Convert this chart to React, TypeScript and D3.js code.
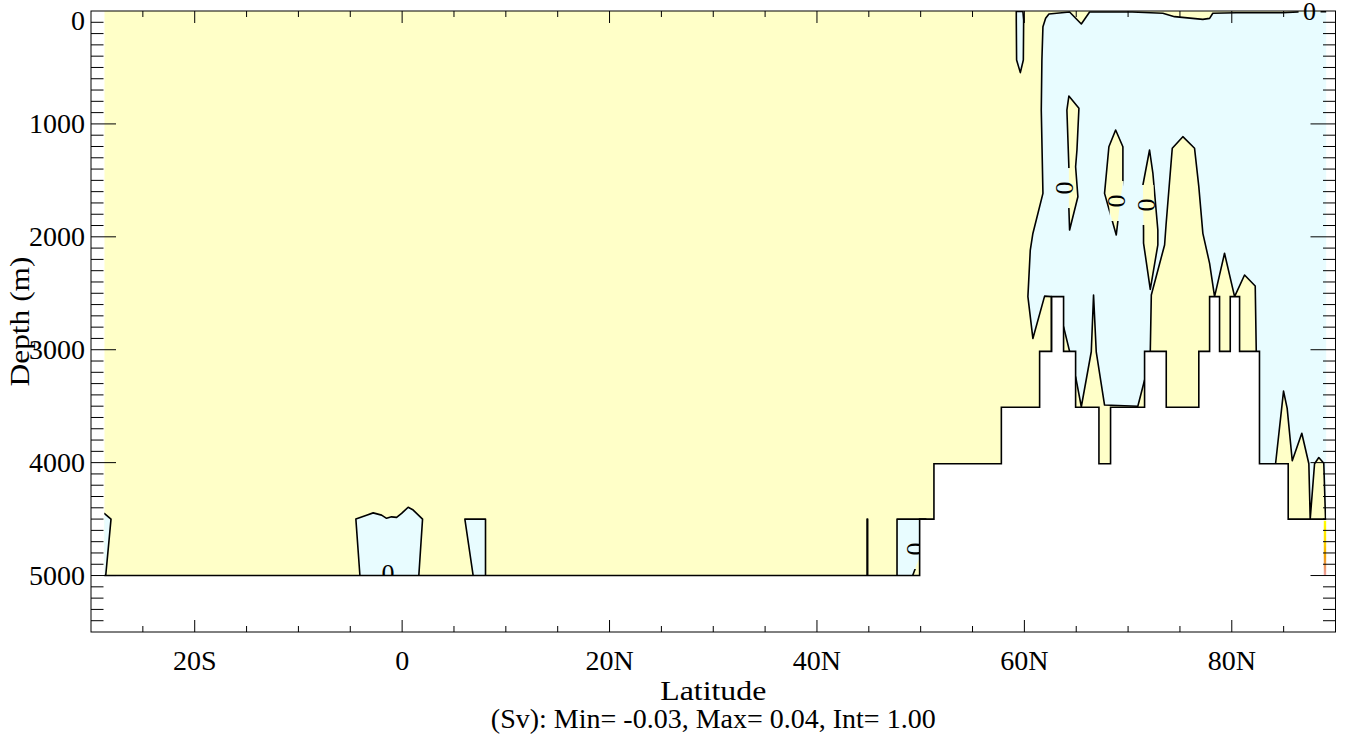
import React from 'react';
import * as d3 from 'd3';

type Pt = [number, number];

// ---------- axis ticks ----------
const latTickValues = [-20, 0, 20, 40, 60, 80];
const latTickLabels = ['20S', '0', '20N', '40N', '60N', '80N'];
const depthTickValues = [0, 1000, 2000, 3000, 4000, 5000];
const depthTickLabels = ['0', '1000', '2000', '3000', '4000', '5000'];

// ---------- data domain (model grid extent) ----------
const dataLatRange: Pt = [-28.72, 89.1];

// ---------- bathymetry (step edges in latitude, depth per cell in m) ----------
const bathyEdges = [-28.72, 49.9, 51.28, 57.78, 61.47, 62.63, 63.78, 64.94, 67.19, 68.31, 71.59, 73.68, 76.82, 77.86, 78.82, 79.85, 80.75, 82.67, 85.44, 89.1];
const bathyDepths = [5000, 4500, 4010, 3510, 3015, 2530, 3015, 3510, 4010, 3510, 3015, 3510, 3015, 2530, 3015, 2530, 3015, 4010, 4500];

// ---------- negative streamfunction regions (lat, depth) ----------
const negArctic: Pt[] = [
  [62.37, 27], [64.36, 9], [65.49, 115], [66.29, 9], [70.4, 9], [73.35, 20], [74.48, 50],
  [77.21, 74], [77.86, 65], [78.17, 20], [80.43, 15], [84.92, 15], [86.85, 6], [90, 6],
  [90, 5600], [62.63, 5600], [62.6, 2530], [61.95, 2525], [60.82, 2900], [60.34, 2530],
  [60.57, 2117], [60.82, 1970], [61.79, 1615], [61.63, 877], [61.69, 434], [61.79, 139], [62.05, 65],
];
const negSliver60N: Pt[] = [
  [59.22, 5], [59.86, 5], [59.93, 80], [59.9, 434], [59.61, 546], [59.25, 434], [59.22, 80],
];
const negLeftEdge: Pt[] = [
  [-30, 4450], [-28.72, 4450], [-28.07, 4500], [-28.58, 5000], [-28.58, 5600], [-30, 5600],
];
const negEquator: Pt[] = [
  [-4.46, 4500], [-3.43, 4465], [-2.79, 4445], [-1.98, 4465], [-1.5, 4493], [-1.02, 4480],
  [-0.53, 4485], [-0.05, 4450], [0.58, 4395], [1.07, 4420], [1.97, 4500], [1.61, 5000],
  [1.61, 5600], [-4.07, 5600], [-4.07, 5000],
];
const negEq2: Pt[] = [[6.05, 4500], [8.04, 4500], [8.04, 5600], [6.85, 5600], [6.85, 5000]];
const negLine45N: Pt[] = [[44.83, 4500], [44.89, 4500], [44.89, 5600], [44.83, 5600]];
const neg48N: Pt[] = [[47.72, 4500], [50.5, 4500], [50.5, 5600], [47.72, 5600]];

// ---------- positive regions inside negative ones ----------
const posA: Pt[] = [
  [64.29, 753], [65.26, 862], [65.07, 1231], [64.94, 1379], [65.16, 1645], [64.36, 1940],
  [64.29, 1745], [64.29, 1379], [64.1, 877],
];
const posB: Pt[] = [
  [68.8, 1054], [69.5, 1202], [69.5, 1512], [69.18, 1733], [68.86, 1984], [67.73, 1615], [68.15, 1202],
];
const posC: Pt[] = [
  [72.07, 1231], [72.39, 1435], [72.87, 1940], [72.87, 2072], [72.14, 2465], [71.49, 2055],
  [71.49, 1940], [71.43, 1541],
];
const posD: Pt[] = [
  [72.14, 3600], [72.14, 3018], [72.24, 2515], [73.52, 2072], [73.66, 1895], [74.26, 1216],
  [75.28, 1113], [76.41, 1216], [76.82, 1556], [77.21, 1969], [77.86, 2235], [78.34, 2530],
  [79.3, 2146], [80.27, 2530], [81.23, 2338], [82.26, 2436], [82.36, 3018], [82.36, 3600],
];
const posWedge64N: Pt[] = [[63.78, 2796], [64.36, 3015], [64.36, 3200], [63.5, 3200], [63.5, 2796]];
const posE: Pt[] = [
  [64.7, 3239], [64.94, 3239], [65.49, 3505], [66.45, 3018], [66.67, 2515], [66.93, 3018],
  [67.73, 3490], [70.94, 3500], [71.59, 3268], [71.8, 3268], [71.8, 4100], [64.7, 4100],
];
const posFG: Pt[] = [
  [84.22, 4010], [84.99, 3366], [85.34, 3519], [85.83, 3983], [86.75, 3740], [87.43, 4010],
  [87.56, 4500], [87.98, 4010], [88.39, 3955], [88.87, 4005], [89.04, 4500], [89.04, 4600], [84.22, 4600],
];
const posWedge49N: Pt[] = [[49.23, 5000], [49.9, 4836], [50.5, 4836], [50.5, 5600], [49.23, 5600]];

const negRegions = [negArctic, negSliver60N, negLeftEdge, negEquator, negEq2, negLine45N, neg48N];
const posRegions = [posA, posB, posC, posD, posWedge64N, posE, posFG, posWedge49N];

// ---------- contour labels ----------
const labelLat = [63.88, 68.89, 71.78, 87.5, -1.37, 49.52];
const labelDepth = [1568, 1683, 1718, 0, 4985, 4765];
const labelRot = [-90, -90, -90, 0, 0, -90];

// ---------- small coloured sliver at the northern edge ----------
const sliverLat: Pt = [88.87, 89.1];
const sliverDepth: Pt = [4515, 5000];

const subtitle = '(Sv): Min= -0.03, Max= 0.04, Int= 1.00';

const W = 1347;
const H = 740;
const plot = { left: 91, right: 1335.5, top: 11, bottom: 632 };
const YELLOW = '#FFFFC8';
const CYAN = '#E8FCFF';
const FONT = "'Liberation Serif', 'Times New Roman', serif";

export default function App() {
  const x = d3.scaleLinear().domain([-30, 90]).range([plot.left, plot.right]);
  const y = d3.scaleLinear().domain([0, 5500]).range([plot.top, plot.bottom]);
  const line = d3.line<Pt>().x((d) => x(d[0])).y((d) => y(d[1]));
  const poly = (pts: Pt[]) => (line(pts) || '') + 'Z';

  // land fill & outline from bathymetry
  const landFill: Pt[] = [[-30, 5500]];
  const landLine: Pt[] = [];
  bathyDepths.forEach((dep, i) => {
    const a = i === 0 ? -30 : bathyEdges[i];
    const b = i === bathyDepths.length - 1 ? 90 : bathyEdges[i + 1];
    landFill.push([a, dep], [b, dep]);
    landLine.push([bathyEdges[i], dep], [bathyEdges[i + 1], dep]);
  });
  landFill.push([90, 5500]);

  const minorLat = d3.range(-25, 90, 5);
  const minorDepth = d3.range(100, 5500, 100);

  const dx0 = x(dataLatRange[0]);
  const dx1 = x(dataLatRange[1]);
  const midX = (plot.left + plot.right) / 2;
  const midY = (plot.top + plot.bottom) / 2;

  return (
    <svg
      width={W}
      height={H}
      style={{ position: 'absolute', left: 0, top: 0, background: '#fff' }}
      fontFamily={FONT}
    >
      <defs>
        <clipPath id="dataClip">
          <rect x={dx0} y={y(0)} width={dx1 - dx0} height={y(5500) - y(0)} />
        </clipPath>
        <mask id="labelGaps" maskUnits="userSpaceOnUse" x={0} y={0} width={W} height={H}>
          <rect x={0} y={0} width={W} height={H} fill="white" />
          {labelLat.map((la, i) => {
            const cx = x(la);
            const cy = y(labelDepth[i]);
            const w = labelRot[i] === 0 ? 22 : 14;
            const h = labelRot[i] === 0 ? 22 : 40;
            return <rect key={i} x={cx - w / 2} y={cy - h / 2} width={w} height={h} fill="black" />;
          })}
        </mask>
        <linearGradient id="sliverGrad" x1="0" y1="0" x2="0" y2="1">
          <stop offset="0%" stopColor="#ffff00" />
          <stop offset="35%" stopColor="#ffe000" />
          <stop offset="65%" stopColor="#f0a000" />
          <stop offset="100%" stopColor="#e06060" stopOpacity={0.6} />
        </linearGradient>
      </defs>

      <g clipPath="url(#dataClip)">
        <rect x={dx0} y={y(0)} width={dx1 - dx0} height={y(5500) - y(0)} fill={YELLOW} />
        {negRegions.map((p, i) => (
          <path key={'n' + i} d={poly(p)} fill={CYAN} />
        ))}
        {posRegions.map((p, i) => (
          <path key={'p' + i} d={poly(p)} fill={YELLOW} />
        ))}
        <g mask="url(#labelGaps)" fill="none" stroke="#000" strokeWidth={1.6} strokeLinejoin="round">
          {[...negRegions, ...posRegions].map((p, i) => (
            <path key={'s' + i} d={poly(p)} />
          ))}
        </g>
      </g>

      {labelLat.map((la, i) => {
        const cx = x(la);
        const cy = y(labelDepth[i]);
        return (
          <text
            key={'l' + i}
            x={cx}
            y={cy}
            fontSize={26}
            textAnchor="middle"
            dominantBaseline="central"
            transform={labelRot[i] ? `rotate(${labelRot[i]} ${cx} ${cy})` : undefined}
          >
            0
          </text>
        );
      })}

      <path d={poly(landFill)} fill="#fff" stroke="none" />
      <path d={line(landLine) || ''} fill="none" stroke="#000" strokeWidth={1.6} strokeLinejoin="miter" />
      <rect
        x={x(sliverLat[0])}
        y={y(sliverDepth[0])}
        width={x(sliverLat[1]) - x(sliverLat[0])}
        height={y(sliverDepth[1]) - y(sliverDepth[0])}
        fill="url(#sliverGrad)"
      />

      {/* ticks */}
      <g stroke="#000" strokeWidth={1}>
        {minorLat.map((v) => {
          const len = latTickValues.includes(v) ? 12 : 6;
          const px = x(v);
          return (
            <g key={'xt' + v}>
              <line x1={px} x2={px} y1={plot.bottom} y2={plot.bottom - len} />
              <line x1={px} x2={px} y1={plot.top} y2={plot.top + len} />
            </g>
          );
        })}
        {minorDepth.map((v) => {
          const len = v % 1000 === 0 ? 25 : 12.5;
          const py = y(v);
          return (
            <g key={'yt' + v}>
              <line x1={plot.left} x2={plot.left + len} y1={py} y2={py} />
              <line x1={plot.right} x2={plot.right - len} y1={py} y2={py} />
            </g>
          );
        })}
        <rect
          x={plot.left}
          y={plot.top}
          width={plot.right - plot.left}
          height={plot.bottom - plot.top}
          fill="none"
        />
      </g>

      {/* tick labels */}
      <g fontSize={28} fill="#000">
        {latTickValues.map((v, i) => (
          <text key={'xl' + v} x={x(v)} y={670} textAnchor="middle">
            {latTickLabels[i]}
          </text>
        ))}
        {depthTickValues.map((v, i) => (
          <text
            key={'yl' + v}
            x={85}
            y={Math.max(y(v), plot.top + 9)}
            textAnchor="end"
            dominantBaseline="central"
          >
            {depthTickLabels[i]}
          </text>
        ))}
        <text x={midX} y={700} textAnchor="middle" textLength={106} lengthAdjust="spacingAndGlyphs">
          Latitude
        </text>
        <text x={midX} y={728} textAnchor="middle">
          {subtitle}
        </text>
        <text
          x={29}
          y={midY}
          textAnchor="middle"
          textLength={130}
          lengthAdjust="spacingAndGlyphs"
          transform={`rotate(-90 29 ${midY})`}
        >
          Depth (m)
        </text>
      </g>
    </svg>
  );
}
